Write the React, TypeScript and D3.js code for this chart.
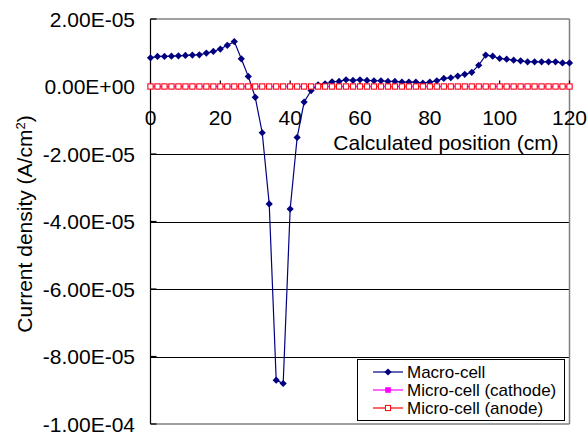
import React from "react";
import * as d3 from "d3";

// Calculated positions along the specimen (cm)
const positions = [
  0, 2, 4, 6, 8, 10, 12, 14, 16, 18, 20, 22, 24, 26, 28, 30, 32, 34, 36, 38,
  40, 42, 44, 46, 48, 50, 52, 54, 56, 58, 60, 62, 64, 66, 68, 70, 72, 74, 76,
  78, 80, 82, 84, 86, 88, 90, 92, 94, 96, 98, 100, 102, 104, 106, 108, 110,
  112, 114, 116, 118, 120,
];

// Macro-cell current density (A/cm2)
const macroCell = [
  0.85e-5, 0.89e-5, 0.89e-5, 0.9e-5, 0.91e-5, 0.92e-5, 0.93e-5, 0.94e-5,
  0.99e-5, 1.04e-5, 1.11e-5, 1.22e-5, 1.33e-5, 0.82e-5, 0.3e-5, -0.32e-5,
  -1.37e-5, -3.48e-5, -8.7e-5, -8.8e-5, -3.63e-5, -1.51e-5, -0.46e-5,
  -0.12e-5, 0.05e-5, 0.08e-5, 0.14e-5, 0.15e-5, 0.2e-5, 0.18e-5, 0.2e-5,
  0.18e-5, 0.17e-5, 0.17e-5, 0.15e-5, 0.15e-5, 0.13e-5, 0.13e-5, 0.13e-5,
  0.1e-5, 0.13e-5, 0.17e-5, 0.24e-5, 0.26e-5, 0.31e-5, 0.36e-5, 0.42e-5,
  0.63e-5, 0.93e-5, 0.9e-5, 0.83e-5, 0.81e-5, 0.78e-5, 0.76e-5, 0.73e-5,
  0.73e-5, 0.73e-5, 0.73e-5, 0.73e-5, 0.7e-5, 0.7e-5,
];

// Micro-cell current densities (A/cm2)
const microCathode = [
  0, 0, 0, 0, 0, 0, 0, 0, 0, 0, 0, 0, 0, 0, 0, 0, 0, 0, 0, 0, 0, 0, 0, 0, 0,
  0, 0, 0, 0, 0, 0, 0, 0, 0, 0, 0, 0, 0, 0, 0, 0, 0, 0, 0, 0, 0, 0, 0, 0, 0,
  0, 0, 0, 0, 0, 0, 0, 0, 0, 0, 0,
];
const microAnode = [
  0, 0, 0, 0, 0, 0, 0, 0, 0, 0, 0, 0, 0, 0, 0, 0, 0, 0, 0, 0, 0, 0, 0, 0, 0,
  0, 0, 0, 0, 0, 0, 0, 0, 0, 0, 0, 0, 0, 0, 0, 0, 0, 0, 0, 0, 0, 0, 0, 0, 0,
  0, 0, 0, 0, 0, 0, 0, 0, 0, 0, 0,
];

const xTicks = [0, 20, 40, 60, 80, 100, 120];
const yTicks = [2e-5, 0, -2e-5, -4e-5, -6e-5, -8e-5, -1e-4];
const yTickLabels = [
  "2.00E-05",
  "0.00E+00",
  "-2.00E-05",
  "-4.00E-05",
  "-6.00E-05",
  "-8.00E-05",
  "-1.00E-04",
];
const seriesNames = ["Macro-cell", "Micro-cell (cathode)", "Micro-cell (anode)"];

const W = 588;
const H = 434;
const FONT = "'Liberation Sans', Arial, sans-serif";

const NAVY = "#000080";
const MAGENTA = "#FF00FF";
const RED = "#FF0000";

const x = d3.scaleLinear().domain([0, 120]).range([150.5, 569.5]);
const y = d3.scaleLinear().domain([-1e-4, 2e-5]).range([424, 19]);

type Pt = [number, number];
const toPts = (vals: number[]): Pt[] => positions.map((p, i) => [p, vals[i]]);
const line = d3
  .line<Pt>()
  .x((d) => x(d[0]))
  .y((d) => y(d[1]));

const diamond = (cx: number, cy: number, r: number) =>
  `M${cx},${cy - r}L${cx + r},${cy}L${cx},${cy + r}L${cx - r},${cy}Z`;

export default function App() {
  const left = x(0);
  const right = x(120);
  const top = y(2e-5);
  const bottom = y(-1e-4);
  const zero = y(0);

  const macroPts = toPts(macroCell);
  const cathPts = toPts(microCathode);
  const anodePts = toPts(microAnode);

  const legX = 357;
  const legY = 359;
  const legW = 207;
  const legH = 61;
  const rowY = [372, 390, 408];

  return (
    <svg
      width={W}
      height={H}
      style={{ position: "absolute", left: 0, top: 0, background: "#fff" }}
      fontFamily={FONT}
    >
      {/* horizontal gridlines */}
      {yTicks.slice(2, 6).map((t) => (
        <line
          key={"g" + t}
          x1={left}
          x2={right}
          y1={Math.round(y(t)) + 0.5}
          y2={Math.round(y(t)) + 0.5}
          stroke="#000"
          strokeWidth={1}
        />
      ))}
      {/* plot frame */}
      <line x1={left} x2={right} y1={top} y2={top} stroke="#808080" strokeWidth={1.5} />
      <line x1={right} x2={right} y1={top} y2={bottom} stroke="#808080" strokeWidth={1.5} />
      <line x1={left} x2={right} y1={bottom} y2={bottom} stroke="#808080" strokeWidth={1.5} />
      <line x1={left} x2={left} y1={top} y2={bottom} stroke="#000" strokeWidth={1.2} />

      {/* y ticks and labels */}
      {yTicks.map((t, i) => (
        <g key={"y" + t}>
          <line x1={left} x2={left + 6} y1={y(t)} y2={y(t)} stroke="#000" strokeWidth={1.2} />
          <text
            x={135}
            y={y(t) + 7.5}
            textAnchor="end"
            fontSize={21}
            fill="#000"
          >
            {yTickLabels[i]}
          </text>
        </g>
      ))}

      {/* x axis at zero */}
      <line x1={left} x2={right} y1={zero} y2={zero} stroke="#000" strokeWidth={1.2} />
      {xTicks.map((t) => (
        <g key={"x" + t}>
          <line x1={x(t)} x2={x(t)} y1={zero - 6} y2={zero} stroke="#000" strokeWidth={1.2} />
          <text
            x={x(t)}
            y={zero + 38.5}
            textAnchor="middle"
            fontSize={21}
            fill="#000"
          >
            {t}
          </text>
        </g>
      ))}
      <text x={446} y={150} textAnchor="middle" fontSize={21} fill="#000">
        Calculated position (cm)
      </text>

      {/* y axis title */}
      <text
        transform={`translate(32,224) rotate(-90)`}
        textAnchor="middle"
        fontSize={21}
        fill="#000"
      >
        Current density (A/cm
        <tspan baselineShift="super" fontSize={13}>
          2
        </tspan>
        )
      </text>

      {/* macro-cell series */}
      <path d={line(macroPts) ?? ""} fill="none" stroke={NAVY} strokeWidth={1.2} />
      {macroPts.map((d, i) => (
        <path key={"m" + i} d={diamond(x(d[0]), y(d[1]), 3.6)} fill={NAVY} />
      ))}

      {/* micro-cell series */}
      <path d={line(anodePts) ?? ""} fill="none" stroke={RED} strokeWidth={1} />
      <path d={line(cathPts) ?? ""} fill="none" stroke={MAGENTA} strokeWidth={1.5} />
      {cathPts.map((d, i) => (
        <rect
          key={"c" + i}
          x={x(d[0]) - 2.8}
          y={y(d[1]) - 2.8}
          width={5.6}
          height={5.6}
          fill={MAGENTA}
        />
      ))}
      {anodePts.map((d, i) => (
        <rect
          key={"a" + i}
          x={x(d[0]) - 2.6}
          y={y(d[1]) - 2.6}
          width={5.2}
          height={5.2}
          fill="#fff"
          stroke={RED}
          strokeWidth={1}
        />
      ))}

      {/* legend */}
      <rect x={legX + 0.5} y={legY + 0.5} width={legW} height={legH} fill="#fff" stroke="#000" strokeWidth={1} />
      {seriesNames.map((name, i) => {
        const cy = rowY[i];
        const color = i === 0 ? NAVY : i === 1 ? MAGENTA : RED;
        return (
          <g key={name}>
            <line x1={373} x2={403} y1={cy} y2={cy} stroke={color} strokeWidth={1.2} />
            {i === 0 && <path d={diamond(388, cy, 3.6)} fill={NAVY} />}
            {i === 1 && <rect x={385.2} y={cy - 2.8} width={5.6} height={5.6} fill={MAGENTA} />}
            {i === 2 && (
              <rect x={385.4} y={cy - 2.6} width={5.2} height={5.2} fill="#fff" stroke={RED} />
            )}
            <text x={407} y={cy + 6} fontSize={17} fill="#000">
              {name}
            </text>
          </g>
        );
      })}
    </svg>
  );
}
